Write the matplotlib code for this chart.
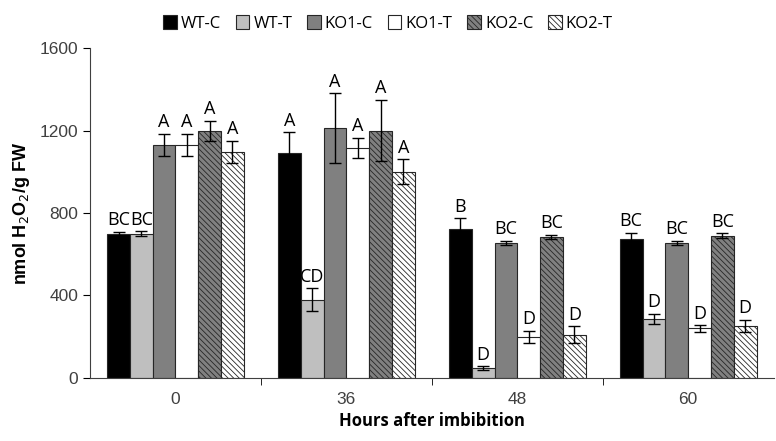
import numpy as np
import matplotlib.pyplot as plt

# H2O2 content per genotype/treatment at each time point
hours = ["0", "36", "48", "60"]
series = ["WT-C", "WT-T", "KO1-C", "KO1-T", "KO2-C", "KO2-T"]
values = {
    "WT-C": [700, 1092, 720, 675],
    "WT-T": [700, 380, 48, 286],
    "KO1-C": [1130, 1212, 655, 655],
    "KO1-T": [1130, 1115, 200, 240],
    "KO2-C": [1198, 1200, 685, 690],
    "KO2-T": [1096, 1000, 210, 252],
}
errors = {
    "WT-C": [10, 100, 55, 30],
    "WT-T": [12, 55, 8, 25],
    "KO1-C": [55, 170, 10, 10],
    "KO1-T": [55, 50, 30, 15],
    "KO2-C": [50, 150, 10, 12],
    "KO2-T": [55, 60, 40, 30],
}
letters = {
    "WT-C": ["BC", "A", "B", "BC"],
    "WT-T": ["BC", "CD", "D", "D"],
    "KO1-C": ["A", "A", "BC", "BC"],
    "KO1-T": ["A", "A", "D", "D"],
    "KO2-C": ["A", "A", "BC", "BC"],
    "KO2-T": ["A", "A", "D", "D"],
}

styles = {
    "WT-C": dict(color="black", hatch=None),
    "WT-T": dict(color="#bfbfbf", hatch=None),
    "KO1-C": dict(color="#808080", hatch=None),
    "KO1-T": dict(color="white", hatch=None),
    "KO2-C": dict(color="#808080", hatch="\\\\\\\\\\\\"),
    "KO2-T": dict(color="white", hatch="\\\\\\\\\\\\"),
}

plt.rcParams['hatch.linewidth'] = 0.6
fig = plt.figure(figsize=(7.76, 4.41), dpi=100)
ax = fig.add_axes([0.116, 0.143, 0.881, 0.748])

x = np.arange(len(hours))
w = 0.8 / len(series)
for i, s in enumerate(series):
    pos = x - 0.4 + w / 2 + i * w
    st = styles[s]
    ax.bar(pos, values[s], w, color=st["color"], hatch=st["hatch"],
           edgecolor="#262626", linewidth=0.8, label=s, zorder=2)
    ax.errorbar(pos, values[s], yerr=errors[s], fmt="none", ecolor="black",
                elinewidth=1, capsize=4, capthick=1, zorder=3)
    for p, v, e, t in zip(pos, values[s], errors[s], letters[s]):
        ax.text(p, v + e + 12, t, ha="center", va="bottom", fontsize=13,
                family="Open Sans", color="black")

ax.set_xlim(-0.5, 3.5)
ax.set_ylim(0, 1600)
ax.set_yticks([0, 400, 800, 1200, 1600])
ax.set_xticks(x)
ax.set_xticklabels(hours)
ax.set_xticks([0.5, 1.5, 2.5], minor=True)
ax.tick_params(axis="x", which="major", length=0, pad=10, labelsize=12.5)
ax.tick_params(axis="x", which="minor", length=5, direction="out")
ax.tick_params(axis="y", length=5, direction="out", labelsize=12.5)
for lab in ax.get_xticklabels() + ax.get_yticklabels():
    lab.set_family("Liberation Sans")
    lab.set_color("#404040")

ax.spines["top"].set_visible(False)
ax.spines["right"].set_visible(False)
ax.spines["left"].set_color("#404040")
ax.spines["bottom"].set_color("#404040")

ax.set_xlabel("Hours after imbibition", fontsize=12, fontweight="bold",
              family="Open Sans")
ax.set_ylabel("nmol H$_2$O$_2$/g FW", fontsize=13, fontweight="bold",
              family="Liberation Sans")
ax.yaxis.set_label_coords(-0.085, 0.5)

leg = ax.legend(loc="upper center", bbox_to_anchor=(0.5, 1.165), ncol=6,
                frameon=False, prop={"family": "Open Sans", "size": 12},
                handlelength=0.8, handleheight=0.9, handletextpad=0.25,
                columnspacing=0.9)
leg.set_bbox_to_anchor((0.5, 1.0), transform=fig.transFigure)

fig.savefig("out.png", dpi=100)
